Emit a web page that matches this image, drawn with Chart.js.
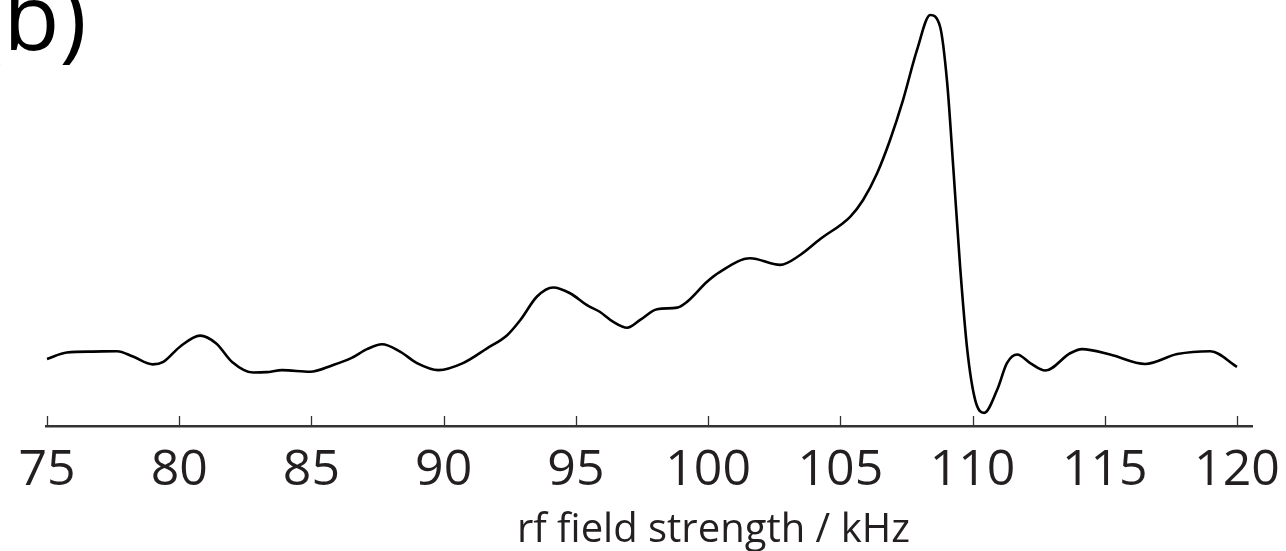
<!DOCTYPE html>
<html>
<head>
<meta charset="utf-8">
<script src="https://cdn.jsdelivr.net/npm/chart.js@4"></script>
<style>
  html, body { margin: 0; padding: 0; background: #fff; }
  #wrap { width: 1286px; height: 551px; }
</style>
</head>
<body>
<div id="wrap"><canvas id="chart-rf"></canvas></div>
<script>
// rf field strength (kHz) and relative signal
const fieldKHz = [75.0, 75.75, 76.74, 77.65, 78.25, 79.0, 79.4, 80.03, 80.79, 81.4, 82.0, 82.8, 83.3, 83.9, 84.95,
  85.8, 86.5, 87.1, 87.67, 88.35, 88.99, 89.8, 90.73, 91.64, 92.4, 92.9, 93.53, 94.14, 94.78, 95.42, 95.9,
  96.4, 96.94, 97.43, 98.07, 98.83, 99.2, 99.96, 100.45, 101.59, 102.72, 103.48, 104.24, 105.37, 105.86,
  106.39, 106.88, 107.37, 107.9, 108.4, 108.77, 109.04, 109.27, 109.53, 109.8, 110.1, 110.44, 110.93,
  111.3, 111.69, 112.18, 112.75, 113.69, 114.14, 115.2, 116.53, 117.74, 118.99, 120.0];
const signal = [0.163, 0.179, 0.181, 0.182, 0.169, 0.150, 0.156, 0.193, 0.220, 0.201, 0.156, 0.130, 0.131, 0.136, 0.132,
  0.148, 0.165, 0.187, 0.199, 0.181, 0.153, 0.136, 0.153, 0.189, 0.221, 0.258, 0.315, 0.337, 0.323, 0.294, 0.278,
  0.254, 0.239, 0.258, 0.284, 0.288, 0.302, 0.351, 0.375, 0.408, 0.392, 0.416, 0.455, 0.509, 0.550,
  0.615, 0.696, 0.793, 0.915, 1.0, 0.972, 0.835, 0.630, 0.387, 0.185, 0.063, 0.032, 0.088,
  0.153, 0.174, 0.153, 0.135, 0.177, 0.187, 0.174, 0.151, 0.175, 0.182, 0.144];
const xTicks = [75, 80, 85, 90, 95, 100, 105, 110, 115, 120];
const xTitle = 'rf field strength / kHz';
const panelLabel = '(b)';

const FONT = '"Open Sans", "Liberation Sans", sans-serif';
const INK = '#231f20';

// ticks on this figure point up into the plot, so draw them ourselves
const innerTicks = {
  id: 'innerTicks',
  afterDraw(chart) {
    const sx = chart.scales.x;
    const ctx = chart.ctx;
    const yAxis = chart.chartArea.bottom;
    ctx.save();
    ctx.strokeStyle = '#333';
    ctx.lineWidth = 1.3;
    sx.ticks.forEach(t => {
      const px = Math.round(sx.getPixelForValue(t.value)) + 0.5;
      ctx.beginPath();
      ctx.moveTo(px, yAxis);
      ctx.lineTo(px, yAxis - 10);
      ctx.stroke();
    });
    ctx.restore();
  }
};

// panel letter and the axis title (title sits right of the axis centre in the original)
const extraText = {
  id: 'extraText',
  afterDraw(chart) {
    const ctx = chart.ctx;
    const sx = chart.scales.x;
    ctx.save();
    ctx.fillStyle = '#000';
    ctx.textBaseline = 'alphabetic';
    ctx.font = '92px ' + FONT;
    ctx.textAlign = 'left';
    ctx.fillText(panelLabel, -24, 50);

    ctx.fillStyle = INK;
    ctx.font = '40px ' + FONT;
    ctx.textAlign = 'center';
    ctx.fillText(xTitle, sx.getPixelForValue(100.2), 542);
    ctx.restore();
  }
};

const ctx = document.getElementById('chart-rf').getContext('2d');
new Chart(ctx, {
  type: 'line',
  data: {
    datasets: [{
      data: fieldKHz.map((f, i) => ({ x: f, y: signal[i] })),
      borderColor: '#000',
      borderWidth: 2.6,
      pointRadius: 0,
      fill: false,
      cubicInterpolationMode: 'monotone',
      clip: false
    }]
  },
  options: {
    responsive: true,
    maintainAspectRatio: false,
    animation: false,
    layout: { padding: { left: 46, right: 34, top: 15, bottom: 35 } },
    plugins: { legend: { display: false }, tooltip: { enabled: false } },
    scales: {
      x: {
        type: 'linear',
        min: 74.962,
        max: 120.567,
        afterBuildTicks: scale => {
          scale.ticks = xTicks.map(v => ({ value: v }));
        },
        afterFit: scale => {
          // end labels may hang past the axis, as in the original
          scale.paddingLeft = 0;
          scale.paddingRight = 0;
        },
        ticks: {
          autoSkip: false,
          maxRotation: 0,
          padding: 20,
          color: INK,
          font: { family: FONT, size: 50, lineHeight: 1 }
        },
        grid: { display: false, drawTicks: false },
        border: { display: true, color: '#333', width: 2.4 },
        title: { display: false }
      },
      y: {
        display: false,
        min: 0,
        max: 1
      }
    }
  },
  plugins: [innerTicks, extraText]
});
</script>
</body>
</html>
